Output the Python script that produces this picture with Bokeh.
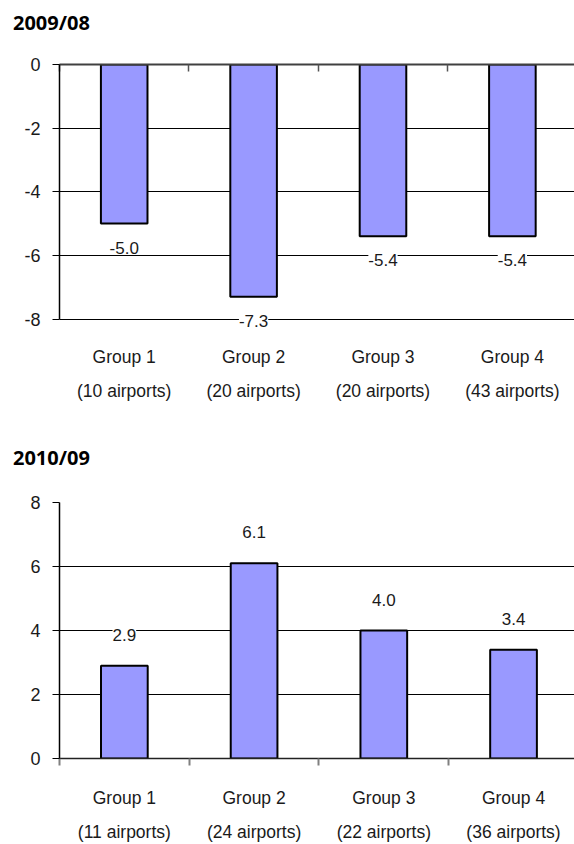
from bokeh.plotting import figure
from bokeh.models import (ColumnDataSource, LabelSet, FixedTicker, Range1d,
                          LinearAxis, Div)
from bokeh.core.properties import value
from bokeh.layouts import column
from bokeh.embed import file_html
from bokeh.resources import INLINE

# Average change per airport group (percent)
categories = ["Group 1", "Group 2", "Group 3", "Group 4"]
airports_0908 = [10, 20, 20, 43]
airports_1009 = [11, 24, 22, 36]
change_0908 = [-5.0, -7.3, -5.4, -5.4]
change_1009 = [2.9, 6.1, 4.0, 3.4]
yticks_0908 = [-8, -6, -4, -2, 0]
yticks_1009 = [0, 2, 4, 6, 8]

FONT = "Liberation Sans"
TITLE_FONT = "Open Sans"
BAR_FILL = "#9999FF"
TEXT = "#1a1a1a"


def heading(text, top_gap, height):
    return Div(text=text, width=561, height=height, margin=(top_gap, 0, 0, 13),
               styles={"font-family": TITLE_FONT, "font-weight": "bold",
                       "font-size": "20px", "line-height": "27px",
                       "color": "black"})


def panel(values, airports, yticks, y_range, width, height, left, top,
          bottom, x_end, negative, cat_standoff):
    n = len(categories)
    centers = [i + 0.5 for i in range(n)]
    bounds = [float(i) for i in range(n + 1)]
    src = ColumnDataSource(dict(
        x=centers, top=values, label=[f"{v:.1f}" for v in values]))

    p = figure(width=width, height=height,
               x_range=Range1d(0, x_end),
               y_range=Range1d(*y_range),
               output_backend="svg", toolbar_location=None,
               min_border_left=left, min_border_right=0,
               min_border_top=top, min_border_bottom=bottom,
               outline_line_color=None, background_fill_color="white",
               border_fill_color="white")

    # value axis
    ya = p.yaxis[0]
    ya.ticker = FixedTicker(ticks=yticks)
    ya.bounds = (min(yticks), max(yticks))
    ya.major_label_overrides = {t: str(t) for t in yticks}
    ya.major_tick_out = 7
    ya.major_tick_in = 0
    ya.minor_tick_line_color = None
    ya.major_tick_line_color = "black"
    ya.axis_line_color = "black"
    ya.axis_line_width = 1.5
    ya.major_label_text_font = FONT
    ya.major_label_text_font_size = "18px"
    ya.major_label_text_color = TEXT
    ya.major_label_standoff = 12

    # horizontal gridlines
    p.xgrid.visible = False
    p.ygrid.ticker = FixedTicker(ticks=yticks)
    p.ygrid.grid_line_color = "black"
    p.ygrid.grid_line_width = 1

    # category axis: labels at bar centres, small ticks at group boundaries
    xa = p.xaxis[0]
    xa.ticker = FixedTicker(ticks=centers, minor_ticks=bounds)
    xa.major_label_overrides = {
        c: f"{name}\n({a} airports)"
        for c, name, a in zip(centers, categories, airports)}
    xa.major_label_text_font = FONT
    xa.major_label_text_font_size = "17.5px"
    xa.major_label_text_color = TEXT
    xa.major_label_text_line_height = 1.7
    xa.major_tick_line_color = None
    xa.major_tick_out = 0
    xa.major_tick_in = 0
    xa.major_label_standoff = cat_standoff
    if negative:
        xa.axis_line_color = None
        xa.minor_tick_line_color = None
        # zero line along the top with inward boundary ticks
        top_axis = LinearAxis(
            ticker=FixedTicker(ticks=[], minor_ticks=bounds),
            axis_line_color="#404040", axis_line_width=2,
            minor_tick_in=7, minor_tick_out=0,
            minor_tick_line_color="#555555", minor_tick_line_width=1.5,
            major_tick_line_color=None, major_label_standoff=0,
            major_label_text_font_size="0px")
        p.add_layout(top_axis, "above")
    else:
        xa.axis_line_color = "#222222"
        xa.axis_line_width = 1.5
        xa.minor_tick_in = 0
        xa.minor_tick_out = 7
        xa.minor_tick_line_color = "#808080"
        xa.minor_tick_line_width = 2

    p.vbar(x="x", top="top", bottom=0, width=0.36, source=src,
           fill_color=BAR_FILL, line_color="black", line_width=2)

    labels = LabelSet(x="x", y="top", text="label", source=src,
                      y_offset=-24 if negative else 31,
                      text_align="center", text_baseline="middle",
                      text_font=value(FONT), text_font_size=value("17px"),
                      text_color=TEXT, background_fill_color="white")
    p.add_layout(labels)
    return p


h1 = heading("2009/08", 9, 35)
p1 = panel(change_0908, airports_0908, yticks_0908, (-8.8, 0),
           574, 386, 59, 20, 86, 3.98, True, -2)
h2 = heading("2010/09", 14, 36)
p2 = panel(change_1009, airports_1009, yticks_1009, (0, 8),
           574, 364, 53, 22, 86, 3.97, False, 22)

layout = column(h1, p1, h2, p2, spacing=0)
open("out.html", "w").write(file_html(layout, INLINE))
